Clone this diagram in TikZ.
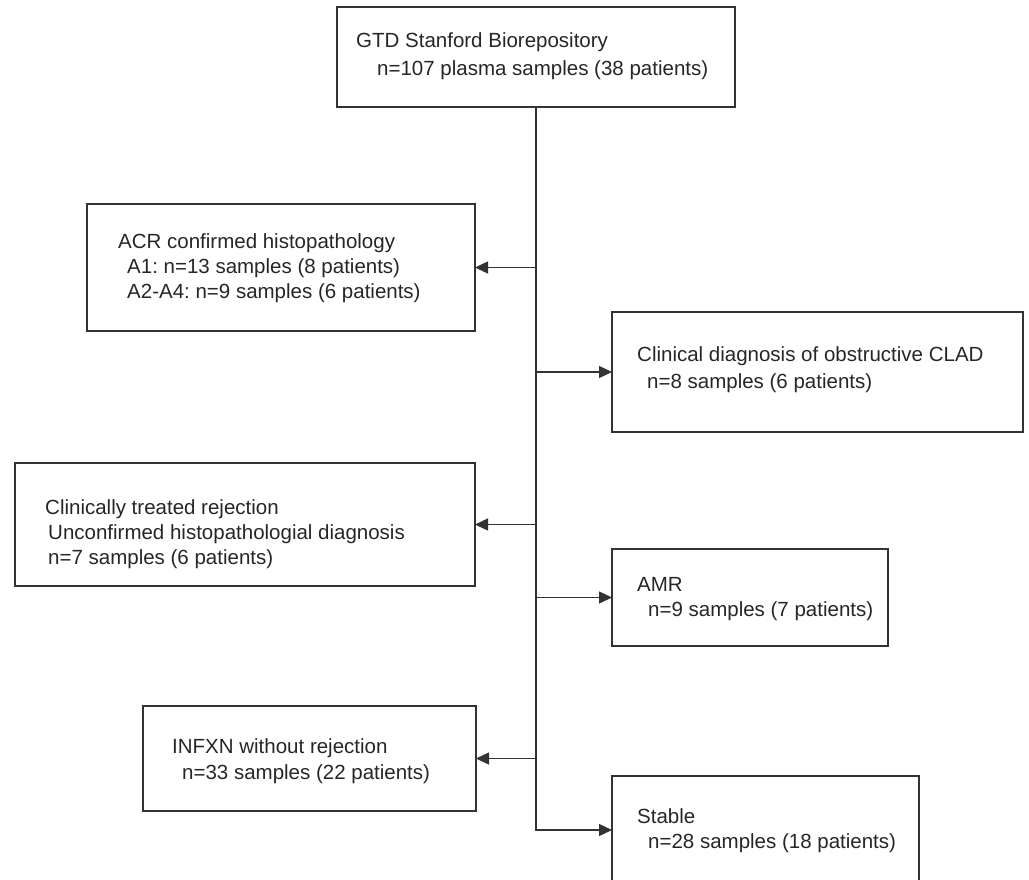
\documentclass[tikz,border=0pt]{standalone}
\usepackage{fontspec}
\setmainfont{Liberation Sans}
\usetikzlibrary{arrows.meta}
\definecolor{linec}{HTML}{333333}
\definecolor{textc}{HTML}{262626}
\frenchspacing
\begin{document}
\begin{tikzpicture}[x=1pt,y=-1pt,
  box/.style={draw=linec, line width=1.4pt, inner sep=0pt, outer sep=0pt, anchor=north west},
  txt/.style={anchor=base west, inner sep=0pt, text=textc, font=\fontsize{20.5}{24}\selectfont},
  arr/.style={draw=linec, line width=1.4pt, -{Triangle[length=13pt,width=12pt]}}
]
\useasboundingbox (0,0) rectangle (1029,879);
% boxes
\node[box, minimum width=398pt, minimum height=100pt] (top) at (337,7) {};
\node[box, minimum width=388pt, minimum height=127pt] (acr) at (87,204) {};
\node[box, minimum width=411pt, minimum height=120pt] (clad) at (612,312) {};
\node[box, minimum width=460pt, minimum height=123pt] (clin) at (15,463) {};
\node[box, minimum width=276pt, minimum height=97pt] (amr) at (612,549) {};
\node[box, minimum width=333pt, minimum height=105pt] (infxn) at (143,706) {};
\node[box, minimum width=307pt, minimum height=108pt] (stable) at (612,776) {};
% texts
\node[txt] (top1) at (356,47) {GTD Stanford Biorepository};
\node[txt] (top2) at (377,75) {n=107 plasma samples (38 patients)};
\node[txt] (acr1) at (118,248) {ACR confirmed histopathology};
\node[txt] (acr2) at (127,273) {A1: n=13 samples (8 patients)};
\node[txt] (acr3) at (127,298) {A2-A4: n=9 samples (6 patients)};
\node[txt] (clad1) at (637,361) {Clinical diagnosis of obstructive CLAD};
\node[txt] (clad2) at (647,388) {n=8 samples (6 patients)};
\node[txt] (clin1) at (45,514) {Clinically treated rejection};
\node[txt] (clin2) at (48,539) {Unconfirmed histopathologial diagnosis};
\node[txt] (clin3) at (48,564) {n=7 samples (6 patients)};
\node[txt] (amr1) at (637,591) {AMR};
\node[txt] (amr2) at (648,616) {n=9 samples (7 patients)};
\node[txt] (inf1) at (172,753) {INFXN without rejection};
\node[txt] (inf2) at (182,779) {n=33 samples (22 patients)};
\node[txt] (st1) at (637,823) {Stable};
\node[txt] (st2) at (648,848) {n=28 samples (18 patients)};
% connectors
\draw[arr] (top.south) |- (stable.west);
\draw[arr] (top.south |- acr.east) -- (acr.east);
\draw[arr] (top.south |- clad.west) -- (clad.west);
\draw[arr] (top.south |- clin.east) -- (clin.east);
\draw[arr] (top.south |- amr.west) -- (amr.west);
\draw[arr] (top.south |- infxn.east) -- (infxn.east);
\end{tikzpicture}
\end{document}
